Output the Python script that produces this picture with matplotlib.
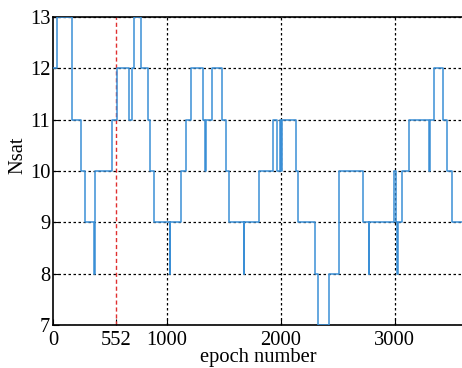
import matplotlib
matplotlib.use("Agg")
import matplotlib.pyplot as plt

# change points (epoch) and number of satellites from that epoch on
epochs = [0, 35, 171, 245, 285, 364, 367, 517, 561, 669, 693, 707, 774, 838, 853, 889,
          1025, 1028, 1123, 1170, 1213, 1316, 1333, 1340, 1395, 1488, 1521, 1547, 1676, 1679,
          1813, 1928, 1971, 1990, 1998, 2012, 2136, 2150, 2302, 2331, 2425, 2507, 2726,
          2774, 2777, 2998, 3010, 3024, 3030, 3063, 3127, 3298, 3306, 3347, 3420, 3458,
          3502, 3600]
nsat = [12, 13, 11, 10, 9, 8, 10, 11, 12, 11, 12, 13, 12, 11, 10, 9,
        8, 9, 10, 11, 12, 11, 10, 11, 12, 11, 10, 9, 8, 9,
        10, 11, 10, 11, 10, 11, 10, 9, 8, 7, 8, 10, 9,
        8, 9, 10, 9, 8, 9, 10, 11, 10, 11, 12, 11, 10,
        9, 9]
marker_epoch = 552
xticks = [0, 552, 1000, 2000, 3000]
xticklabels = ["0", "552", "1000", "2000", "3000"]
yticks = [7, 8, 9, 10, 11, 12, 13]
grid_x = [1000, 2000, 3000]

plt.rcParams['font.family'] = ['Liberation Serif', 'DejaVu Serif']

fig = plt.figure(figsize=(4.62, 3.68), dpi=100)
ax = fig.add_axes([53 / 462, 43 / 368, 410 / 462, 308 / 368])

for g in yticks:
    ax.axhline(g, color='black', linestyle=(0, (2, 2)), linewidth=0.9, zorder=1)
for g in grid_x:
    ax.axvline(g, color='black', linestyle=(0, (2, 2)), linewidth=0.9, zorder=1)

ax.step(epochs, nsat, where='post', color='#3a8fd6', linewidth=1.1, zorder=3)
ax.axvline(marker_epoch, color='#e03030', linestyle=(0, (3, 2)), linewidth=1.0, zorder=2)

ax.set_xlim(0, 3600)
ax.set_ylim(7, 13)
ax.set_xticks(xticks)
ax.set_xticklabels(xticklabels)
ax.set_yticks(yticks)
ax.tick_params(direction='in', labelsize=14.8, length=4)
ax.tick_params(axis='x', pad=4)
ax.tick_params(axis='y', pad=2)
for s in ax.spines.values():
    s.set_linewidth(1.2)
ax.set_xlabel('epoch number', fontsize=14.8, labelpad=-1)
ax.set_ylabel('Nsat', fontsize=14.8)
ax.yaxis.set_label_coords(-0.062, 0.55)

fig.savefig('out.png', dpi=100)
